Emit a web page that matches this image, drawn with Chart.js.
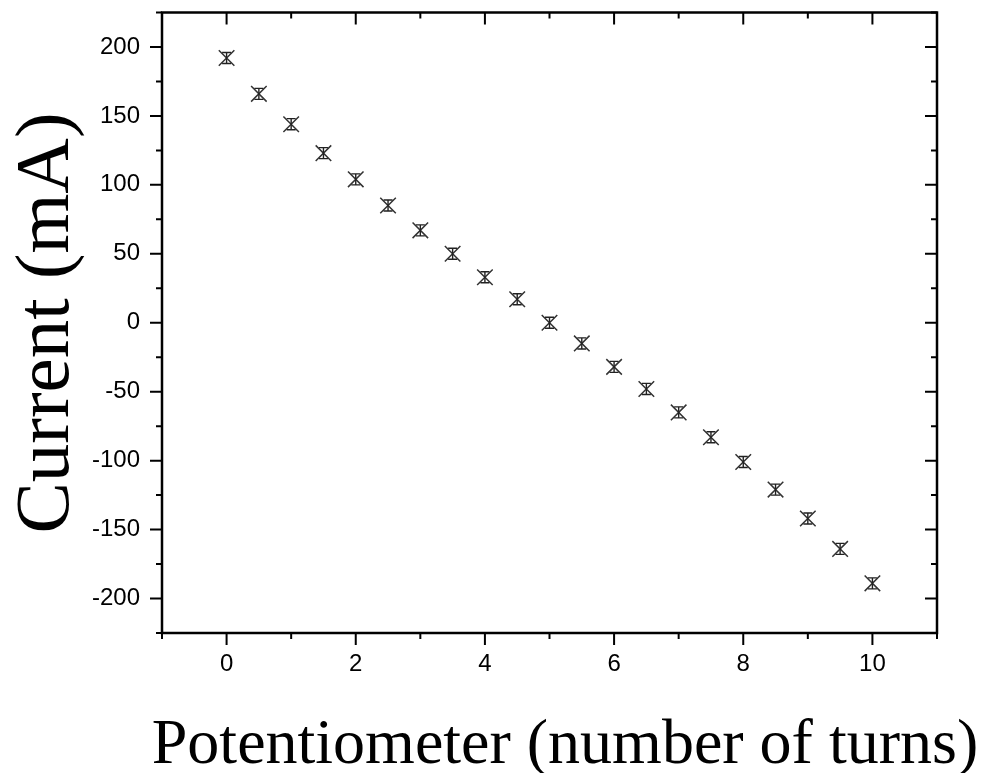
<!DOCTYPE html>
<html><head><meta charset="utf-8">
<script src="https://cdn.jsdelivr.net/npm/chart.js@4/dist/chart.umd.min.js"></script>
<style>html,body{margin:0;padding:0;background:#fff}#wrap{width:992px;height:773px}</style>
</head><body><div id="wrap"><canvas id="c" width="992" height="773"></canvas></div>
<script>
const turns = [0,0.5,1,1.5,2,2.5,3,3.5,4,4.5,5,5.5,6,6.5,7,7.5,8,8.5,9,9.5,10];
const current = [192,166,144,123,104,85,67,50,33,17,0,-15,-32,-48,-65,-83,-101,-121,-142,-164,-189];
const currentErr = [4,4,4,4,4,4,4,4,4,4,4,4,4,4,4,4,4,4,4,4,4];
const xTicks = [0,2,4,6,8,10];
const yTicks = [-200,-150,-100,-50,0,50,100,150,200];
const xTitle = 'Potentiometer (number of turns)';
const yTitle = 'Current (mA)';

const points = turns.map((t,i)=>({x:t,y:current[i]}));

const framePlugin = {
  id:'frame',
  afterDatasetsDraw(chart){
    const ctx = chart.ctx, a = chart.chartArea;
    const xs = chart.scales.x, ys = chart.scales.y;
    ctx.save();
    // error bars
    ctx.strokeStyle = '#222'; ctx.lineWidth = 1.4;
    turns.forEach((t,i)=>{
      const px = xs.getPixelForValue(t);
      const p1 = ys.getPixelForValue(current[i]+currentErr[i]);
      const p2 = ys.getPixelForValue(current[i]-currentErr[i]);
      ctx.beginPath();
      ctx.moveTo(px,p1); ctx.lineTo(px,p2);
      ctx.moveTo(px-4.5,p1); ctx.lineTo(px+4.5,p1);
      ctx.moveTo(px-4.5,p2); ctx.lineTo(px+4.5,p2);
      ctx.stroke();
    });
    // frame
    ctx.strokeStyle = '#000'; ctx.lineWidth = 2.5;
    ctx.strokeRect(a.left,a.top,a.right-a.left,a.bottom-a.top);
    ctx.lineWidth = 2;
    const major = 12, minor = 6;
    for(let v=-1; v<=11; v+=1){
      const px = xs.getPixelForValue(v);
      const len = (v%2===0) ? major : minor;
      ctx.beginPath();
      ctx.moveTo(px,a.bottom); ctx.lineTo(px,a.bottom+len);
      ctx.moveTo(px,a.top); ctx.lineTo(px,a.top+len);
      ctx.stroke();
    }
    for(let v=-225; v<=225; v+=25){
      const py = ys.getPixelForValue(v);
      const len = (v%50===0) ? major : minor;
      ctx.beginPath();
      ctx.moveTo(a.left,py); ctx.lineTo(a.left-len,py);
      ctx.moveTo(a.right,py); ctx.lineTo(a.right-len,py);
      ctx.stroke();
    }
    // titles
    ctx.fillStyle = '#000';
    ctx.font = '64px "Liberation Serif"';
    ctx.textAlign = 'center'; ctx.textBaseline = 'alphabetic';
    ctx.fillText(xTitle, 565, 763);
    ctx.save();
    ctx.translate(68, 323);
    ctx.rotate(-Math.PI/2);
    ctx.font = '77px "Liberation Serif"';
    ctx.fillText(yTitle, 0, 0);
    ctx.restore();
    ctx.restore();
  }
};

new Chart(document.getElementById('c'), {
  type:'scatter',
  data:{datasets:[{data:points, pointStyle:'crossRot', pointRadius:11, pointHoverRadius:11,
    borderColor:'#333', backgroundColor:'#333', pointBorderWidth:1.5, showLine:false}]},
  options:{
    responsive:false, animation:false, events:[],
    plugins:{legend:{display:false}, tooltip:{enabled:false}},
    layout:{padding:{left:0,top:10,right:55,bottom:0}},
    scales:{
      x:{type:'linear', min:-1, max:11,
        afterFit(s){ s.height = 140; s.paddingLeft = 0; s.paddingRight = 0; },
        afterBuildTicks(s){ s.ticks = xTicks.map(v=>({value:v})); },
        grid:{display:false}, border:{display:false},
        ticks:{color:'#000', font:{family:'"Liberation Sans"', size:24}, padding:9, maxRotation:0}},
      y:{type:'linear', min:-225, max:225,
        afterFit(s){ s.width = 162; s.paddingTop = 0; s.paddingBottom = 0; },
        afterBuildTicks(s){ s.ticks = yTicks.map(v=>({value:v})); },
        grid:{display:false}, border:{display:false},
        ticks:{color:'#000', font:{family:'"Liberation Sans"', size:24}, padding:14}}
    }
  },
  plugins:[framePlugin]
});
</script></body></html>
